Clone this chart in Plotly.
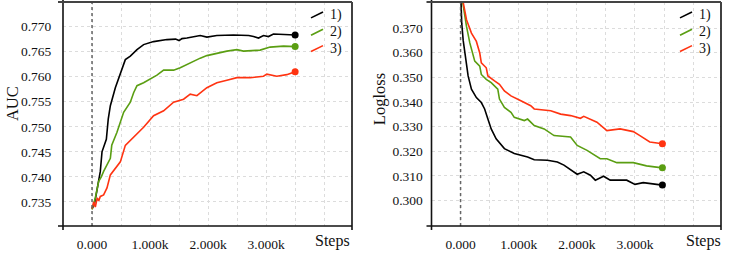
import plotly.graph_objects as go

# ---------------- data ----------------
series_names = ["1)", "2)", "3)"]
series_colors = ["#000000", "#5a9e12", "#ff3311"]

x_tick_vals = [0, 1000, 2000, 3000]
x_tick_text = ["0.000", "1.000k", "2.000k", "3.000k"]
auc_tick_vals = [0.735, 0.740, 0.745, 0.750, 0.755, 0.760, 0.765, 0.770]
loss_tick_vals = [0.300, 0.310, 0.320, 0.330, 0.340, 0.350, 0.360, 0.370]

auc_steps_1 = [0, 40, 80, 143, 172, 247, 280, 316, 402, 488, 574, 660, 775, 889, 1061,
               1291, 1440, 1500, 1550, 1635, 1865, 1980, 2151, 2438, 2700, 2783, 2869,
               2955, 3040, 3127, 3300, 3500]
auc_1 = [0.7336, 0.7345, 0.7370, 0.7411, 0.7450, 0.7475, 0.7516, 0.7542, 0.7578, 0.7608,
         0.7634, 0.7641, 0.7654, 0.7664, 0.7670, 0.7674, 0.7675, 0.7672, 0.7676, 0.7677,
         0.7682, 0.7679, 0.7682, 0.7683, 0.7682, 0.7680, 0.7677, 0.7682, 0.7680, 0.7685,
         0.7684, 0.7683]

auc_steps_2 = [0, 57, 115, 160, 200, 260, 316, 340, 430, 545, 660, 717, 775, 889, 1004,
               1119, 1234, 1406, 1520, 1692, 1865, 1979, 2151, 2324, 2496, 2610, 2897,
               3069, 3300, 3500]
auc_2 = [0.7335, 0.7358, 0.7391, 0.7400, 0.7411, 0.7425, 0.7437, 0.7463, 0.7489, 0.7529,
         0.7549, 0.7568, 0.7582, 0.7588, 0.7596, 0.7603, 0.7613, 0.7613, 0.7618, 0.7628,
         0.7637, 0.7642, 0.7647, 0.7651, 0.7654, 0.7651, 0.7653, 0.7659, 0.7661, 0.7660]

auc_steps_3 = [0, 30, 57, 90, 115, 143, 200, 258, 316, 402, 488, 574, 717, 889, 1061,
               1234, 1406, 1578, 1692, 1807, 1979, 2151, 2324, 2496, 2725, 2955, 3012,
               3184, 3356, 3500]
auc_3 = [0.7337, 0.7350, 0.7340, 0.7358, 0.7352, 0.7361, 0.7364, 0.7378, 0.7404, 0.7417,
         0.7430, 0.7463, 0.7480, 0.7499, 0.7522, 0.7532, 0.7549, 0.7555, 0.7565, 0.7562,
         0.7578, 0.7588, 0.7593, 0.7598, 0.7598, 0.7601, 0.7605, 0.7601, 0.7604, 0.7610]

loss_steps_1 = [0, 20, 45, 75, 130, 187, 272, 357, 414, 470, 527, 612, 754, 924, 1153,
                1267, 1494, 1665, 1778, 2006, 2119, 2233, 2318, 2460, 2574, 2858, 3000,
                3142, 3312, 3472]
loss_1 = [0.386, 0.372, 0.365, 0.360, 0.3506, 0.3452, 0.3418, 0.3398, 0.3372, 0.3331,
          0.3291, 0.3251, 0.3211, 0.3191, 0.3177, 0.3166, 0.3164, 0.3157, 0.3144, 0.3107,
          0.3117, 0.3103, 0.3083, 0.3099, 0.3083, 0.3083, 0.3066, 0.3073, 0.3067, 0.3063]

loss_steps_2 = [0, 50, 102, 159, 244, 330, 357, 442, 527, 640, 669, 754, 867, 924, 1097,
                1153, 1267, 1438, 1608, 1892, 2006, 2176, 2403, 2517, 2688, 2971, 3199,
                3472]
loss_2 = [0.386, 0.378, 0.3707, 0.364, 0.3566, 0.3546, 0.3512, 0.3492, 0.3479, 0.3452,
          0.3412, 0.3378, 0.3358, 0.3338, 0.3325, 0.3331, 0.3305, 0.3291, 0.3264, 0.3258,
          0.3224, 0.3204, 0.3170, 0.3170, 0.3154, 0.3154, 0.3141, 0.3133]

loss_steps_3 = [0, 50, 102, 187, 272, 330, 357, 442, 470, 584, 669, 754, 867, 1037, 1207,
                1267, 1551, 1722, 1892, 2062, 2119, 2346, 2517, 2744, 2971, 3085, 3255,
                3472]
loss_3 = [0.386, 0.379, 0.3734, 0.368, 0.3646, 0.3599, 0.3559, 0.3539, 0.3506, 0.3486,
          0.3472, 0.3445, 0.3425, 0.3405, 0.3385, 0.3372, 0.3365, 0.3351, 0.3345, 0.3334,
          0.3342, 0.3318, 0.3284, 0.3291, 0.3280, 0.3264, 0.3238, 0.3231]

# ---------------- layout geometry (px) ----------------
W, H = 747, 254
ML, MR, MT, MB = 63, 26, 2, 26
PW = W - ML - MR
PH = H - MT - MB
LEFT_X0, LEFT_X1 = 63, 352
RIGHT_X0, RIGHT_X1 = 431.5, 721
TOP_Y, BOT_Y = 2, 228


def px(xp):
    return (xp - ML) / PW


def py(yp):
    return (H - MB - yp) / PH


FONT = "Liberation Serif"
GRID = "#dcdcdc"

fig = go.Figure()

auc_data = [(auc_steps_1, auc_1), (auc_steps_2, auc_2), (auc_steps_3, auc_3)]
loss_data = [(loss_steps_1, loss_1), (loss_steps_2, loss_2), (loss_steps_3, loss_3)]

for panel, data in (("", auc_data), ("2", loss_data)):
    for (xs, ys), name, col in zip(data, series_names, series_colors):
        fig.add_trace(go.Scatter(x=xs, y=ys, mode="lines", name=name,
                                 line=dict(color=col, width=1.6),
                                 xaxis="x" + panel, yaxis="y" + panel,
                                 showlegend=False, cliponaxis=True))
        fig.add_trace(go.Scatter(x=[xs[-1]], y=[ys[-1]], mode="markers",
                                 marker=dict(color=col, size=7),
                                 xaxis="x" + panel, yaxis="y" + panel,
                                 showlegend=False, cliponaxis=False))

common_x = dict(range=[-500, 4480], tickvals=x_tick_vals, ticktext=x_tick_text,
                showgrid=True, gridcolor=GRID, griddash="3px,3px", gridwidth=1,
                minor=dict(tick0=0, dtick=500, showgrid=True, gridcolor=GRID,
                           griddash="3px,3px", gridwidth=1),
                zeroline=False, showline=False, ticks="outside", ticklen=6,
                tickcolor="rgba(0,0,0,0)", tickfont=dict(family=FONT, size=13.5, color="#111"))

fig.update_layout(
    width=W, height=H,
    margin=dict(l=ML, r=MR, t=MT, b=MB),
    plot_bgcolor="white", paper_bgcolor="white",
    showlegend=False,
    xaxis=dict(common_x, domain=[px(LEFT_X0), px(LEFT_X1)], anchor="y"),
    xaxis2=dict(common_x, domain=[px(RIGHT_X0), px(RIGHT_X1)], anchor="y2"),
    yaxis=dict(range=[0.7302, 0.7749], tickvals=auc_tick_vals, tickformat=".3f",
               showgrid=True, gridcolor=GRID, griddash="3px,3px", zeroline=False,
               ticks="outside", ticklen=8, tickcolor="rgba(0,0,0,0)",
               tickfont=dict(family=FONT, size=13.5, color="#111"), anchor="x"),
    yaxis2=dict(range=[0.2897, 0.3806], tickvals=loss_tick_vals, tickformat=".3f",
                showgrid=True, gridcolor=GRID, griddash="3px,3px", zeroline=False,
                ticks="outside", ticklen=5, tickcolor="rgba(0,0,0,0)",
                tickfont=dict(family=FONT, size=13.5, color="#111"), anchor="x2"),
)

shapes = []
# zero dashed lines
for xr, yr in (("x", "y domain"), ("x2", "y2 domain")):
    shapes.append(dict(type="line", xref=xr, yref=yr, x0=0, x1=0, y0=0, y1=1,
                       line=dict(color="#666", width=1.5, dash="3px,3px"), layer="above"))

# frames with small corner extensions
FR = "#111"
for x0, x1 in ((LEFT_X0, LEFT_X1), (RIGHT_X0, RIGHT_X1)):
    shapes += [
        dict(type="line", xref="paper", yref="paper", x0=px(x0), x1=px(x0),
             y0=py(0), y1=py(BOT_Y + 4), line=dict(color=FR, width=1.6), layer="above"),
        dict(type="line", xref="paper", yref="paper", x0=px(x1), x1=px(x1),
             y0=py(TOP_Y), y1=py(BOT_Y + 4), line=dict(color=FR, width=1.6), layer="above"),
        dict(type="line", xref="paper", yref="paper", x0=px(x0 - 5), x1=px(x1),
             y0=py(BOT_Y), y1=py(BOT_Y), line=dict(color=FR, width=1.6), layer="above"),
        dict(type="line", xref="paper", yref="paper", x0=px(x0 - 5), x1=px(x1),
             y0=py(TOP_Y), y1=py(TOP_Y), line=dict(color="#444", width=2), layer="above"),
    ]

annotations = []
# legend (diagonal line symbols + labels)
legend_rows_y = [15, 32.5, 49]
for lx in (311, 680):
    for ry, name, col in zip(legend_rows_y, series_names, series_colors):
        shapes.append(dict(type="line", xref="paper", yref="paper",
                           x0=px(lx), x1=px(lx + 12), y0=py(ry + 3), y1=py(ry - 3),
                           line=dict(color=col, width=1.6), layer="above"))
        annotations.append(dict(xref="paper", yref="paper", x=px(lx + 17), y=py(ry),
                                text=name, showarrow=False, xanchor="left", yanchor="middle",
                                font=dict(family=FONT, size=14, color="#111")))

# axis titles
annotations += [
    dict(xref="paper", yref="paper", x=px(12), y=py(105), text="AUC", textangle=-90,
         showarrow=False, xanchor="center", yanchor="middle",
         font=dict(family=FONT, size=16.5, color="#111")),
    dict(xref="paper", yref="paper", x=px(379), y=py(100), text="Logloss", textangle=-90,
         showarrow=False, xanchor="center", yanchor="middle",
         font=dict(family=FONT, size=16.5, color="#111")),
    dict(xref="paper", yref="paper", x=px(332.5), y=py(243), text="Steps",
         showarrow=False, xanchor="center", yanchor="middle",
         font=dict(family=FONT, size=16, color="#111")),
    dict(xref="paper", yref="paper", x=px(703), y=py(243), text="Steps",
         showarrow=False, xanchor="center", yanchor="middle",
         font=dict(family=FONT, size=16, color="#111")),
]

fig.update_layout(shapes=shapes, annotations=annotations)
fig.write_html("out.html", config={"displayModeBar": False},
               post_script="document.body.style.margin='0';document.body.style.padding='0';")
